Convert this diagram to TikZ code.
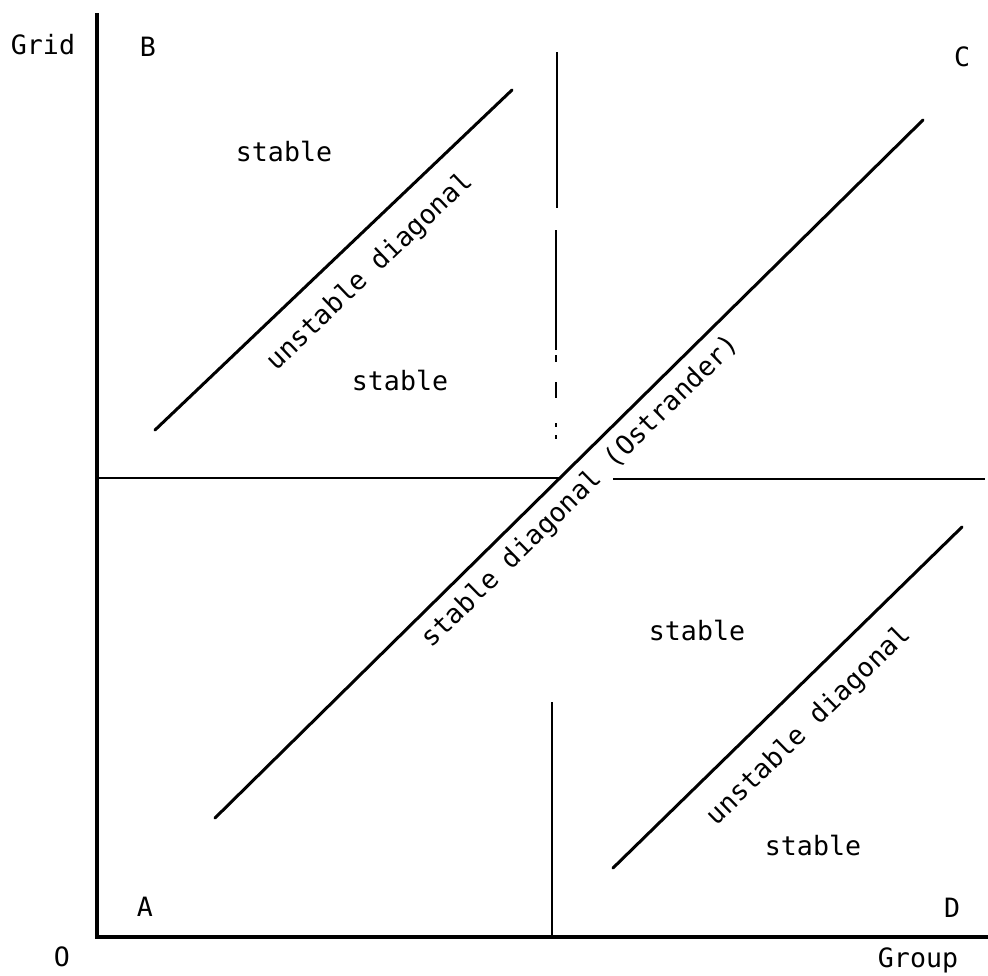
\documentclass[tikz,border=0pt]{standalone}
\usepackage{fontspec}
\setmainfont{DejaVu Sans Mono}
\usetikzlibrary{positioning}

\begin{document}
\begin{tikzpicture}[x=0.5pt,y=-0.5pt,
  axisline/.style={line width=1.7pt},
  diagline/.style={line width=1.5pt, line cap=round},
  midline/.style={line width=0.9pt},
  lbl/.style={inner sep=0pt, font=\fontsize{13.3}{16}\selectfont}]
\useasboundingbox (0,0) rectangle (988,975);
% axes
\coordinate (ytop) at (97,13);
\coordinate (orig) at (97,937);
\coordinate (xend) at (988,937);
\draw[axisline] (ytop) -- (orig) -- (xend);
% middle lines
\coordinate (hl1) at (97,478);
\coordinate (hl2) at (560,478);
\coordinate (hr1) at (613,479);
\coordinate (hr2) at (985,479);
\draw[midline] (hl1) -- (hl2);
\draw[midline] (hr1) -- (hr2);
\coordinate (vt1) at (557,52);
\coordinate (vt2) at (557,208);
\coordinate (vt3) at (556,230);
\coordinate (vt4) at (556,350);
\coordinate (vb1) at (552,702);
\coordinate (vb2) at (552,937);
\draw[midline] (vt1) -- (vt2);
\draw[midline] (vt3) -- (vt4);
\draw[midline] (556,355) -- (556,362);
\draw[midline] (556,382) -- (556,398);
\draw[midline] (556,423) -- (556,427);
\draw[midline] (556,435) -- (556,439);
\draw[midline] (vb1) -- (vb2);
% diagonals
\coordinate (ua) at (155,430);
\coordinate (ub) at (512,90);
\coordinate (sa) at (215,818);
\coordinate (sb) at (923,120);
\coordinate (la) at (613,868);
\coordinate (lb) at (962,527);
\draw[diagline] (ua) -- (ub);
\draw[diagline] (sa) -- (sb);
\draw[diagline] (la) -- (lb);
% labels
\node[lbl] (grid) at (43,45) {Grid};
\node[lbl] (b) at (148,47) {B};
\node[lbl] (c) at (962,57) {C};
\node[lbl] (a) at (145,907) {A};
\node[lbl] (d) at (952,908) {D};
\node[lbl] (o) at (62,957) {O};
\node[lbl] (group) at (918,960) {Group};
\node[lbl] (st1) at (284,152) {stable};
\node[lbl] (st2) at (400,381) {stable};
\node[lbl] (st3) at (697,630) {stable};
\node[lbl] (st4) at (813,845) {stable};
\node[lbl, rotate=43.6] (ulab) at (370,272) {unstable diagonal};
\node[lbl, rotate=44.5] (slab) at (581,492) {stable diagonal (Ostrander)};
\node[lbl, rotate=44.3] (llab) at (809,726) {unstable diagonal};
\end{tikzpicture}
\end{document}
